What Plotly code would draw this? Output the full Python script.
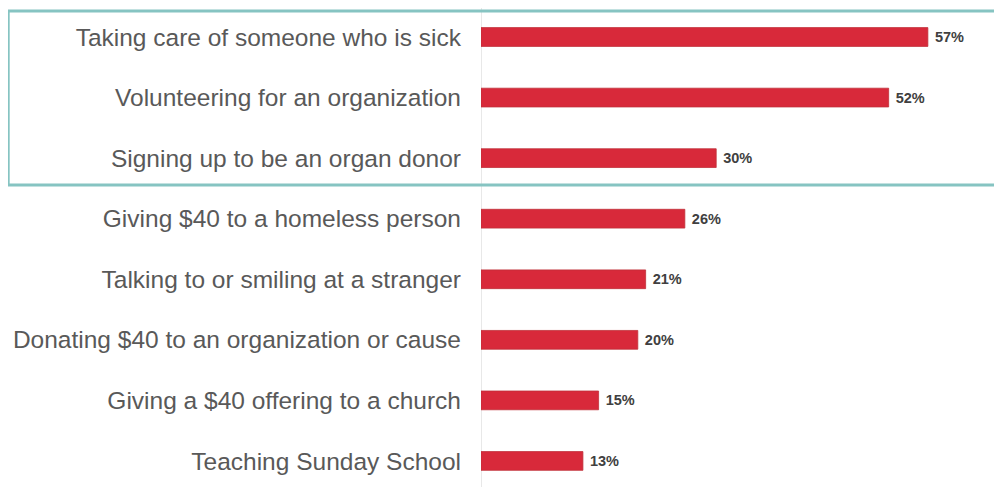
import plotly.graph_objects as go

categories = [
    "Taking care of someone who is sick",
    "Volunteering for an organization",
    "Signing up to be an organ donor",
    "Giving $40 to a homeless person",
    "Talking to or smiling at a stranger",
    "Donating $40 to an organization or cause",
    "Giving a $40 offering to a church",
    "Teaching Sunday School",
]
values = [57, 52, 30, 26, 21, 20, 15, 13]
value_labels = [f"{v}%" for v in values]

fig = go.Figure()
fig.add_trace(go.Bar(
    y=categories,
    x=values,
    orientation="h",
    width=0.31,
    marker=dict(color="#d8293a", line=dict(color="#c0313a", width=0.8)),
    text=[f" {t}" for t in value_labels],
    textposition="outside",
    textfont=dict(family="Liberation Sans, Arial", size=14.5, color="#404040", weight="bold"),
    cliponaxis=False,
))

# highlight box around the top three rows (page offset of 8px compensated)
fig.add_shape(
    type="rect", xref="paper", yref="paper",
    x0=-0.911, x1=0.994, y0=0.9937, y1=0.6305,
    line=dict(color="#86c4c2", width=3),
    fillcolor="rgba(0,0,0,0)",
    layer="above",
)

fig.update_layout(
    width=994, height=479,
    margin=dict(l=473, r=2, t=0, b=0),
    paper_bgcolor="white", plot_bgcolor="white",
    showlegend=False,
    font=dict(family="Liberation Sans, Arial", color="#595959"),
    xaxis=dict(range=[0, 66.2], showgrid=False, showticklabels=False,
               zeroline=True, zerolinecolor="#e8e8e8", zerolinewidth=1, fixedrange=True),
    yaxis=dict(type="category", range=[7.43, -0.479], showgrid=False,
               ticks="", tickfont=dict(size=24.5, color="#595959"),
               ticklabelstandoff=19, showline=False),
)

fig.write_html("out.html")
